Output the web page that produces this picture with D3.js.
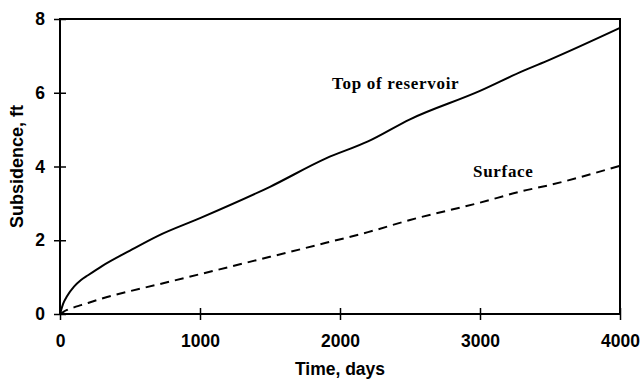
<!DOCTYPE html>
<html>
<head>
<meta charset="utf-8">
<script src="https://cdn.jsdelivr.net/npm/d3@7"></script>
<style>
  html, body { margin: 0; padding: 0; background: #fff; }
  svg { display: block; }
</style>
</head>
<body>
<svg id="chart" width="644" height="385"></svg>
<script>
// Subsidence over time, top of reservoir vs. surface
const timeDays = [0, 25, 50, 100, 150, 200, 300, 500, 700, 1000, 1500, 1900, 2200, 2500, 3000, 3300, 3500, 4000];
const topOfReservoir = [0, 0.3, 0.48, 0.74, 0.92, 1.05, 1.3, 1.72, 2.12, 2.6, 3.45, 4.22, 4.68, 5.28, 6.05, 6.58, 6.9, 7.76];
const surface = [0, 0.06, 0.11, 0.18, 0.24, 0.3, 0.42, 0.62, 0.8, 1.08, 1.55, 1.93, 2.22, 2.55, 3.02, 3.33, 3.5, 4.02];
const xTicks = [0, 1000, 2000, 3000, 4000];
const yTicks = [0, 2, 4, 6, 8];

const svg = d3.select("#chart");
const m = { left: 60, right: 24, top: 19, bottom: 71 };
const W = 644, H = 385;
const sans = "Liberation Sans, Arial, sans-serif";
const serif = "Liberation Serif, Times New Roman, serif";

const x = d3.scaleLinear().domain([0, 4000]).range([m.left, W - m.right]);
const y = d3.scaleLinear().domain([0, 8]).range([H - m.bottom, m.top]);

// frame
svg.append("rect")
  .attr("x", x(0)).attr("y", y(8))
  .attr("width", x(4000) - x(0)).attr("height", y(0) - y(8))
  .attr("fill", "none").attr("stroke", "#000").attr("stroke-width", 2);

// axes
const xAxis = svg.append("g")
  .attr("transform", `translate(0,${y(0)})`)
  .call(d3.axisBottom(x).tickValues(xTicks).tickSize(0).tickPadding(21).tickFormat(d3.format("d")));
xAxis.select(".domain").remove();
xAxis.selectAll(".tick").append("line")
  .attr("y1", -6).attr("y2", 6).attr("stroke", "#000").attr("stroke-width", 1.5);

const yAxis = svg.append("g")
  .attr("transform", `translate(${x(0)},0)`)
  .call(d3.axisLeft(y).tickValues(yTicks).tickSize(0).tickPadding(15).tickFormat(d3.format("d")));
yAxis.select(".domain").remove();
yAxis.selectAll(".tick").append("line")
  .attr("x1", -6).attr("x2", 6).attr("stroke", "#000").attr("stroke-width", 1.5);

svg.selectAll(".tick text")
  .attr("font-family", sans)
  .attr("font-weight", "bold").attr("font-size", 17.5).attr("fill", "#000");

// axis titles
svg.append("text")
  .attr("x", (x(0) + x(4000)) / 2).attr("y", 375)
  .attr("text-anchor", "middle")
  .attr("font-family", sans)
  .attr("font-weight", "bold").attr("font-size", 17.5)
  .text("Time, days");

svg.append("text")
  .attr("transform", `translate(23,${(y(0) + y(8)) / 2}) rotate(-90)`)
  .attr("text-anchor", "middle")
  .attr("font-family", sans)
  .attr("font-weight", "bold").attr("font-size", 18)
  .text("Subsidence, ft");

// series
const line = d3.line().x(d => x(d[0])).y(d => y(d[1])).curve(d3.curveMonotoneX);

svg.append("path")
  .datum(timeDays.map((t, i) => [t, topOfReservoir[i]]))
  .attr("d", line).attr("fill", "none")
  .attr("stroke", "#000").attr("stroke-width", 2);

svg.append("path")
  .datum(timeDays.map((t, i) => [t, surface[i]]))
  .attr("d", line).attr("fill", "none")
  .attr("stroke", "#000").attr("stroke-width", 2)
  .attr("stroke-dasharray", "9,6");

// series labels
svg.append("text")
  .attr("x", 332).attr("y", 89)
  .attr("font-family", serif)
  .attr("font-weight", "bold").attr("font-size", 17)
  .attr("letter-spacing", 0.7)
  .text("Top of reservoir");

svg.append("text")
  .attr("x", 473).attr("y", 177)
  .attr("font-family", serif)
  .attr("font-weight", "bold").attr("font-size", 17)
  .attr("letter-spacing", 0.7)
  .text("Surface");
</script>
</body>
</html>
